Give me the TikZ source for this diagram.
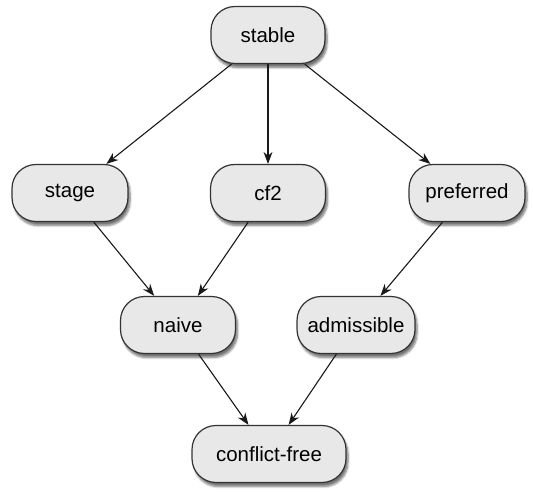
\documentclass[tikz,border=0pt]{standalone}
\usepackage{fontspec}
\setmainfont{Liberation Sans}
\usetikzlibrary{arrows.meta,shadows.blur}
\begin{document}
\begin{tikzpicture}[x=1pt,y=-1pt,
  box/.style={draw=black!80, line width=1.2pt, fill=black!9, rounded corners=24pt,
    minimum height=57pt, inner sep=0pt, font=\fontsize{20.5}{24}\selectfont,
    blur shadow={shadow xshift=2pt, shadow yshift=-4pt, shadow blur steps=6, shadow opacity=55}},
  arr/.style={-{Stealth[length=12pt,width=9pt]}, line width=1.1pt, black!90}]
\useasboundingbox (0,0) rectangle (533,492);
\node[box, minimum width=114pt] (stable) at (268,35) {stable};
\node[box, minimum width=116pt] (stage) at (70,193) {stage};
\node[box, minimum width=115pt] (cf2) at (268,193) {cf2};
\node[box, minimum width=116pt] (preferred) at (467,193) {preferred};
\node[box, minimum width=115pt] (naive) at (178,325) {naive};
\node[box, minimum width=118pt] (admissible) at (356,325) {admissible};
\node[box, minimum width=154pt] (cfree) at (269,454) {conflict-free};
\draw[arr] (stable) -- (stage);
\draw[arr] (stable) -- (cf2);
\draw[arr] (stable) -- (preferred);
\draw[arr] (stage) -- (naive);
\draw[arr] (cf2) -- (naive);
\draw[arr] (preferred) -- (admissible);
\draw[arr] (naive) -- (cfree);
\draw[arr] (admissible) -- (cfree);
\end{tikzpicture}
\end{document}
